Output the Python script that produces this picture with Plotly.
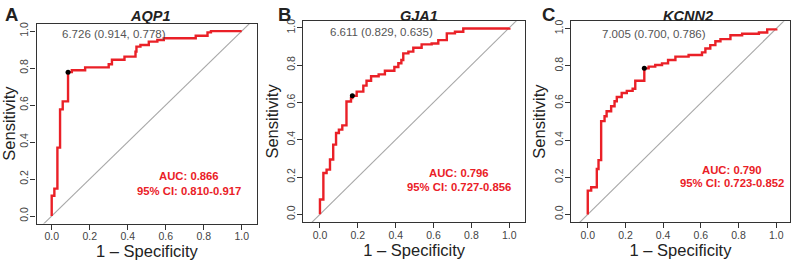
import plotly.graph_objects as go

genes = ["AQP1", "GJA1", "KCNN2"]
panel_letters = ["A", "B", "C"]

# ROC step points (1 - specificity, sensitivity) at each vertical jump
fpr_aqp1 = [0, 0, 0.014, 0.03, 0.044, 0.058, 0.086, 0.106, 0.176, 0.30, 0.317, 0.383, 0.441, 0.446,
            0.467, 0.511, 0.556, 0.59, 0.758, 0.82, 0.838, 1.0]
tpr_aqp1 = [0, 0.11, 0.148, 0.37, 0.577, 0.62, 0.778, 0.788, 0.804, 0.821, 0.845, 0.862, 0.889, 0.916,
            0.925, 0.943, 0.952, 0.961, 0.975, 0.993, 1.0, 1.0]

fpr_gja1 = [0, 0, 0.018, 0.035, 0.053, 0.07, 0.085, 0.10, 0.118, 0.14, 0.164, 0.171, 0.194, 0.229,
            0.246, 0.27, 0.31, 0.343, 0.393, 0.414, 0.43, 0.44, 0.467, 0.493, 0.537, 0.59, 0.625,
            0.67, 0.713, 0.757, 1.0]
tpr_gja1 = [0, 0.08, 0.222, 0.24, 0.294, 0.374, 0.436, 0.454, 0.477, 0.605, 0.623, 0.635, 0.658, 0.69,
            0.716, 0.74, 0.75, 0.77, 0.79, 0.81, 0.827, 0.863, 0.872, 0.893, 0.911, 0.916, 0.934,
            0.97, 0.979, 0.996, 1.0]

fpr_kcnn2 = [0, 0, 0.018, 0.048, 0.057, 0.071, 0.089, 0.10, 0.124, 0.142, 0.154, 0.18, 0.207, 0.238,
             0.252, 0.30, 0.323, 0.358, 0.394, 0.426, 0.465, 0.535, 0.606, 0.624, 0.65, 0.677, 0.704,
             0.757, 0.819, 0.908, 0.952, 1.0]
tpr_kcnn2 = [0, 0.128, 0.146, 0.244, 0.292, 0.502, 0.528, 0.555, 0.582, 0.609, 0.632, 0.653, 0.665,
             0.676, 0.719, 0.786, 0.795, 0.804, 0.813, 0.831, 0.849, 0.858, 0.872, 0.893, 0.911,
             0.932, 0.943, 0.964, 0.972, 0.979, 0.996, 1.0]

fprs = [fpr_aqp1, fpr_gja1, fpr_kcnn2]
tprs = [tpr_aqp1, tpr_gja1, tpr_kcnn2]

thresholds = [6.726, 6.611, 7.005]
thr_spec = [0.914, 0.829, 0.700]
thr_sens = [0.778, 0.635, 0.786]

auc = [0.866, 0.796, 0.790]
ci_low = [0.810, 0.727, 0.723]
ci_high = [0.917, 0.856, 0.852]

diag = [-1, 2]
tick_vals = [0, 0.2, 0.4, 0.6, 0.8, 1.0]
tick_text = ["0.0", "0.2", "0.4", "0.6", "0.8", "1.0"]

# layout (pixel boxes of each panel)
W, H = 794, 263
boxes = [(36.5, 257.3, 21.7, 223.3), (303.3, 525.0, 19.0, 221.7), (571.0, 790.0, 19.3, 221.7)]
xranges = [(-0.08, 1.082), (-0.088, 1.083), (-0.089, 1.073)]
yranges = [(-0.041, 1.041), (-0.041, 1.037), (-0.041, 1.04)]
thr_text_pos = [(0.328, 0.987), (0.326, 0.975), (0.353, 0.97)]
auc_pos = [(0.72, 0.218, 0.134), (0.735, 0.22, 0.145), (0.767, 0.239, 0.167)]
letter_x = [11.5, 284, 548]
title_x = [150.7, 419, 688]

RED = "#ea2027"
FONT = "Liberation Sans, Arial, Helvetica, sans-serif"

fig = go.Figure()
ann = []
for i in range(3):
    sfx = "" if i == 0 else str(i + 1)
    xa, ya = "x" + sfx, "y" + sfx
    fig.add_trace(go.Scatter(x=diag, y=diag, mode="lines", line=dict(color="#a8a8a8", width=1.1),
                             xaxis=xa, yaxis=ya, showlegend=False, hoverinfo="skip"))
    fig.add_trace(go.Scatter(x=fprs[i], y=tprs[i], mode="lines", line=dict(color=RED, width=2.4, shape="hv"),
                             xaxis=xa, yaxis=ya, showlegend=False))
    fig.add_trace(go.Scatter(x=[1 - thr_spec[i]], y=[thr_sens[i]], mode="markers",
                             marker=dict(color="black", size=5), xaxis=xa, yaxis=ya, showlegend=False))
    x0, x1, y0, y1 = boxes[i]
    dom_x = [x0 / W, x1 / W]
    dom_y = [1 - y1 / H, 1 - y0 / H]
    common = dict(showline=True, mirror=True, linecolor="#333333", linewidth=1.3, ticks="outside",
                  ticklen=5, tickwidth=1, tickcolor="#333333", showgrid=False, zeroline=False,
                  tickvals=tick_vals, ticktext=tick_text,
                  tickfont=dict(family=FONT, size=10.5, color="#444444"))
    fig.update_layout(**{
        ("xaxis" + sfx): dict(domain=dom_x, range=list(xranges[i]), anchor=ya, ticklabelstandoff=-2,
                              title=dict(text="1 \u2013 Specificity", font=dict(family=FONT, size=16.5, color="#222222"),
                                         standoff=2), **common),
        ("yaxis" + sfx): dict(domain=dom_y, range=list(yranges[i]), anchor=xa, tickangle=-90,
                              ticklabelstandoff=-2,
                              title=dict(text="Sensitivity", font=dict(family=FONT, size=16.5, color="#222222"),
                                         standoff=2), **common),
    })
    tx, ty = thr_text_pos[i]
    ann.append(dict(x=tx, y=ty, xref=xa, yref=ya, showarrow=False, xanchor="center", yanchor="middle",
                    text=f"{thresholds[i]:.3f} ({thr_spec[i]:.3f}, {thr_sens[i]:.3f})",
                    font=dict(family=FONT, size=11.5, color="#555555")))
    ax_, ay1, ay2 = auc_pos[i]
    ann.append(dict(x=ax_, y=ay1, xref=xa, yref=ya, showarrow=False, xanchor="center", yanchor="middle",
                    text=f"<b>AUC: {auc[i]:.3f}</b>", font=dict(family=FONT, size=11.3, color=RED)))
    ann.append(dict(x=ax_, y=ay2, xref=xa, yref=ya, showarrow=False, xanchor="center", yanchor="middle",
                    text=f"<b>95% CI: {ci_low[i]:.3f}-{ci_high[i]:.3f}</b>", font=dict(family=FONT, size=11.3, color=RED)))
    ann.append(dict(x=title_x[i] / W, y=1 - 14 / H, xref="paper", yref="paper", showarrow=False,
                    xanchor="center", yanchor="middle",
                    text=f"<b><i>{genes[i]}</i></b>", font=dict(family=FONT, size=14.5, color="#222222")))
    ann.append(dict(x=letter_x[i] / W, y=1 - 13 / H, xref="paper", yref="paper", showarrow=False,
                    xanchor="center", yanchor="middle",
                    text=f"<b>{panel_letters[i]}</b>", font=dict(family=FONT, size=18.5, color="#222222")))

fig.update_layout(width=W, height=H, margin=dict(l=0, r=0, t=0, b=0), paper_bgcolor="white",
                  plot_bgcolor="white", annotations=ann, font=dict(family=FONT))
fig.write_html("out.html")
